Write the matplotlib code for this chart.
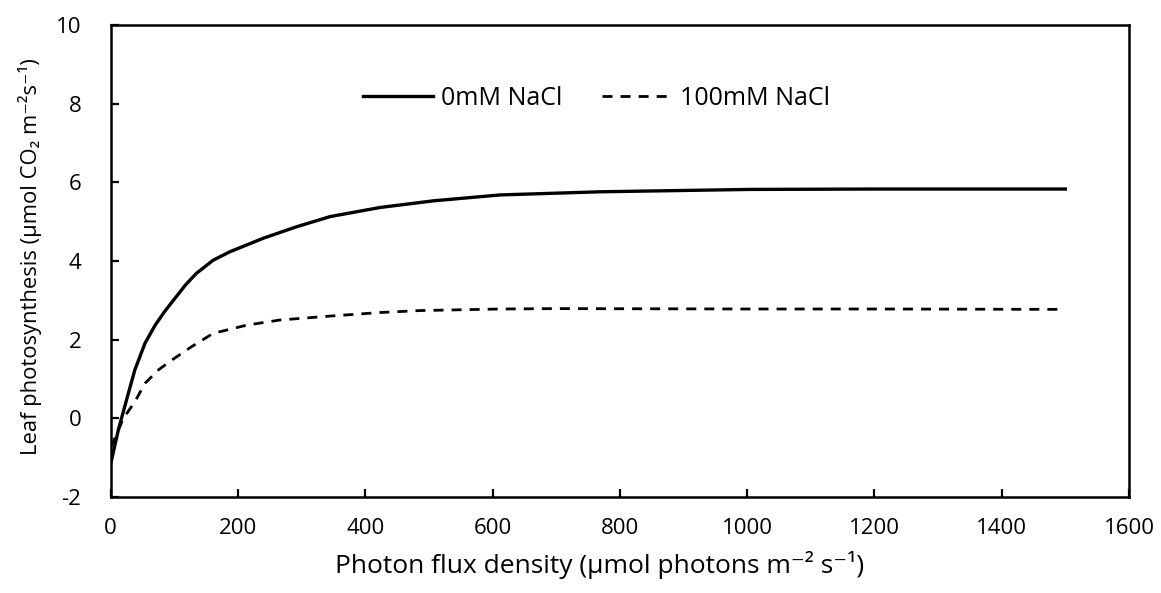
import numpy as np
import matplotlib.pyplot as plt

plt.rcParams['font.family'] = ['Open Sans', 'DejaVu Sans']
plt.rcParams['axes.unicode_minus'] = False
plt.rcParams['xtick.direction'] = 'in'
plt.rcParams['ytick.direction'] = 'in'

# photon flux density and leaf photosynthesis
ppfd_0 = [0, 12, 25, 38, 54, 70, 85, 101, 118, 135, 161, 188, 240, 292, 345,
          423, 507, 612, 769, 1004, 1200, 1500]
an_0 = [-1.16, -0.3, 0.47, 1.23, 1.91, 2.37, 2.72, 3.05, 3.4, 3.69, 4.02, 4.24,
        4.58, 4.87, 5.13, 5.36, 5.53, 5.68, 5.76, 5.82, 5.83, 5.83]

ppfd_100 = [0, 4, 20, 38, 54, 75, 96, 127, 161, 214, 266, 345, 423, 486, 612,
            700, 1004, 1200, 1500]
an_100 = [-0.72, -0.6, 0.0, 0.42, 0.89, 1.23, 1.48, 1.82, 2.16, 2.37, 2.5, 2.6,
          2.69, 2.74, 2.78, 2.79, 2.78, 2.78, 2.77]

fig = plt.figure(figsize=(11.61, 5.93), dpi=100)
ax = fig.add_axes([0.0953, 0.1619, 0.8771, 0.7959])

ax.plot(ppfd_0, an_0, color='black', lw=2.4, label='0mM NaCl',
        solid_joinstyle='round')
ax.plot(ppfd_100, an_100, color='black', lw=2.0, ls=(0, (3.6, 2.9)),
        label='100mM NaCl')

ax.set_xlim(0, 1600)
ax.set_ylim(-2, 10)
ax.set_xticks(np.arange(0, 1601, 200))
ax.set_yticks(np.arange(-2, 11, 2))
ax.tick_params(axis='x', direction='in', length=6, width=1.6, labelsize=16, pad=15)
ax.tick_params(axis='y', direction='in', length=6, width=1.6, labelsize=16, pad=21)
for s in ax.spines.values():
    s.set_linewidth(1.8)

ax.set_xlabel('Photon flux density (µmol photons m⁻² s⁻¹)', fontsize=19, labelpad=9)
ax.xaxis.label.set_x(0.48)
ax.set_ylabel('Leaf photosynthesis (µmol CO₂ m⁻²s⁻¹)', fontsize=15.8, labelpad=10)
ax.yaxis.label.set_y(0.51)
ax.legend(loc='center', bbox_to_anchor=(0.477, 0.845), ncol=2, frameon=False,
          fontsize=18, handlelength=2.8, columnspacing=1.6, handletextpad=0.3)

fig.savefig('out.png', dpi=100)
